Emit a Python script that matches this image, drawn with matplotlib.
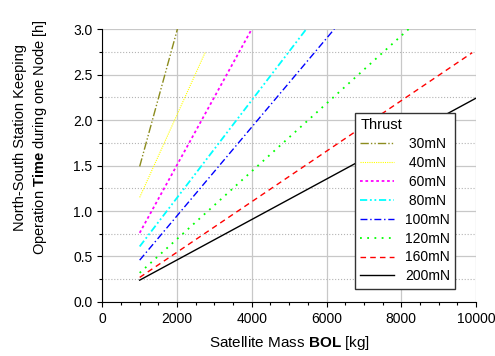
import numpy as np
import matplotlib.pyplot as plt
from matplotlib.ticker import MultipleLocator

plt.rcParams['font.family'] = ['Liberation Sans', 'DejaVu Sans']
plt.rcParams['font.size'] = 10
plt.rcParams['mathtext.fontset'] = 'custom'
plt.rcParams['mathtext.rm'] = 'Liberation Sans'
plt.rcParams['mathtext.bf'] = 'Liberation Sans:bold'

# Thrust levels and line end points (mass in kg, time in h)
thrust_labels = [' 30mN', ' 40mN', ' 60mN', ' 80mN', '100mN', '120mN', '160mN', '200mN']
mass_start = [1000, 1000, 1000, 1000, 1000, 1000, 1000, 1000]
mass_end = [2010, 2750, 4000, 5460, 6210, 8200, 9900, 10000]
time_start = [1.49, 1.15, 0.76, 0.61, 0.46, 0.32, 0.27, 0.24]
time_end = [3.0, 2.74, 3.0, 3.0, 3.0, 3.0, 2.74, 2.24]

colors = ['#8c8c1e', '#ffff00', '#ff00ff', '#00ffff', '#0000ff', '#00ff00', '#ff0000', '#000000']
styles = [(0, (6, 1.5, 1, 1.5, 1, 1.5)), (0, (1, 1)), (0, (1.5, 1.5)),
          (0, (4, 1.5, 1, 1.5, 1, 1.5)), (0, (5, 2, 1, 2)), (0, (1, 3)),
          (0, (4, 3)), '-']
widths = [1.0, 0.8, 1.3, 1.3, 1.0, 1.3, 1.0, 1.0]

fig = plt.figure(figsize=(4.95, 3.56), dpi=100)
ax = fig.add_axes([0.2067, 0.1517, 0.7549, 0.7668])

for i in range(len(thrust_labels)):
    ax.plot([mass_start[i], mass_end[i]], [time_start[i], time_end[i]],
            color=colors[i], linestyle=styles[i], linewidth=widths[i],
            label=thrust_labels[i])

ax.set_xlim(0, 10000)
ax.set_ylim(0, 3.0)
ax.xaxis.set_major_locator(MultipleLocator(2000))
ax.xaxis.set_minor_locator(MultipleLocator(500))
ax.yaxis.set_major_locator(MultipleLocator(0.5))
ax.yaxis.set_minor_locator(MultipleLocator(0.25))
ax.yaxis.set_major_formatter(plt.FormatStrFormatter('%.1f'))
ax.tick_params(which='major', direction='out', length=3.5, width=0.8)
ax.tick_params(which='minor', direction='out', length=2.5, width=0.8)

ax.grid(which='major', color='#c8c8c8', linestyle='-', linewidth=0.9)
ax.grid(which='minor', axis='y', color='#b4b4b4', linestyle=':', linewidth=0.8)
ax.set_axisbelow(True)
ax.spines['top'].set_visible(False)
ax.spines['right'].set_visible(False)

ax.set_xlabel('Satellite Mass $\\bf{BOL}$ [kg]', fontsize=11, labelpad=6)
ax.set_ylabel('North-South Station Keeping\nOperation $\\bf{Time}$ during one Node [h]',
              fontsize=10.5, linespacing=1.3)
ax.yaxis.set_label_coords(-0.142, 0.604)

leg = ax.legend(title='Thrust', alignment='left', loc='lower left',
                bbox_to_anchor=(0.676, 0.048), borderaxespad=0,
                fancybox=False, framealpha=1, edgecolor='#333333',
                handlelength=2.4, labelspacing=0.35, fontsize=10,
                title_fontsize=10.5)
leg.get_frame().set_linewidth(1.0)

fig.savefig('out.png', dpi=100)
